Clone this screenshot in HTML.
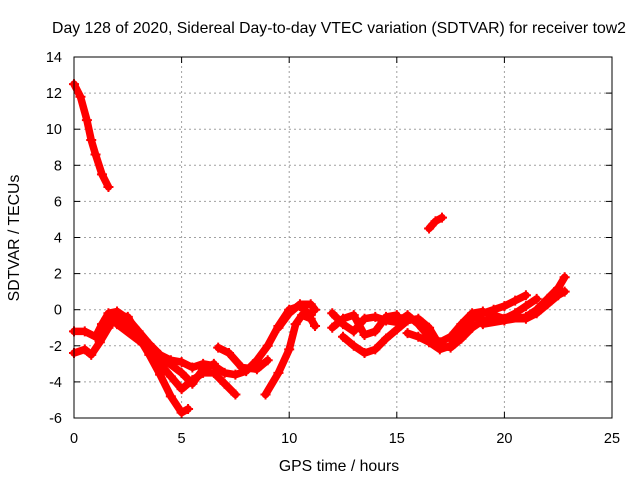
<!DOCTYPE html>
<html><head><meta charset="utf-8"><style>
body{margin:0;background:#fff}
svg{display:block;font-family:"Liberation Sans",Arial,sans-serif}
</style></head><body>
<svg id="chart" width="640" height="480" viewBox="0 0 640 480" xmlns="http://www.w3.org/2000/svg">
<text x="339" y="33" font-size="15.8" text-anchor="middle">Day 128 of 2020, Sidereal Day-to-day VTEC variation (SDTVAR) for receiver tow2</text>
<text x="339" y="471" font-size="15.8" text-anchor="middle">GPS time / hours</text>
<text transform="translate(19,238) rotate(-90)" font-size="15.8" text-anchor="middle">SDTVAR / TECUs</text>
<g id="grid"></g>
<g id="ticks"></g>
<g id="series"></g>
<rect x="74" y="57" width="538" height="361" fill="none" stroke="#000" stroke-width="1"/>
</svg>
<script>
const xTicks=[0,5,10,15,20,25];
const yTicks=[-6,-4,-2,0,2,4,6,8,10,12,14];
const traceA=[[0,12.5],[0.3,11.8],[0.6,10.5],[0.8,9.4],[1.0,8.6],[1.3,7.5],[1.6,6.8]];
const traceB=[[16.5,4.5],[16.8,4.9],[17.1,5.1]];
const trace1=[[0,-1.2],[0.5,-1.2],[1.0,-1.5],[1.3,-0.8],[1.6,-0.2],[2.0,-0.1],[2.5,-0.5],[3,-1.2],[3.5,-1.9],[4,-2.5],[4.5,-2.8],[5,-2.9],[5.5,-3.2],[6,-3],[6.5,-3.1],[7,-3.5],[7.5,-3.6],[8,-3.4],[8.5,-2.8],[9,-2],[9.5,-0.9],[10,0],[10.5,0.2],[11,-0.3]];
const trace2=[[0,-2.4],[0.5,-2.2],[0.8,-2.5],[1.2,-1.8],[1.6,-1],[2,-0.3],[2.5,-0.4],[3,-1.4],[3.5,-2.3],[4,-3],[4.5,-3.7],[5,-4.4],[5.5,-3.9],[6,-3.5],[6.5,-3.5],[7,-4.1],[7.5,-4.7]];
const trace3=[[1.0,-1.5],[1.5,-0.5],[2,-0.3],[3,-1.5],[3.5,-2.5],[4,-3.6],[4.5,-4.8],[5,-5.7],[5.3,-5.5]];
const trace4=[[2,-0.8],[3,-1.7],[4,-2.6],[5,-3.5],[5.5,-4.1],[6,-3.3],[6.5,-3.0]];
const trace5=[[6.7,-2.1],[7.2,-2.4],[7.8,-3.2],[8.5,-3.3],[9,-2.8]];
const trace6=[[8.9,-4.7],[9.5,-3.5],[10,-2.2],[10.3,-0.8],[10.6,-0.3],[11,-0.5],[11.2,-0.9]];
const trace7=[[9.5,-1],[10,-0.2],[10.5,0.3],[11,0.3],[11.2,0]];
const trace8=[[12,-0.2],[12.5,-0.8],[13,-1.2],[13.5,-0.5],[14,-0.4],[14.5,-0.6],[15,-0.7],[15.5,-0.3],[16,-0.8],[16.5,-1.5],[17,-1.8],[17.5,-1.5],[18,-0.8],[18.5,-0.2],[19,-0.1],[20,-0.5],[20.5,-0.2],[21,0.2],[21.5,0.6]];
const trace9=[[12.5,-1.5],[13,-2],[13.5,-2.4],[14,-2.2],[14.5,-1.6],[15,-1.1],[15.5,-0.6],[16,-0.5],[16.5,-1],[17,-2],[17.5,-2.1],[18,-1.6],[18.5,-1.0],[19,-0.6],[20,-0.5],[21,-0.5],[21.5,-0.2],[22,0.3],[22.5,0.8],[22.8,1.0]];
const trace10=[[19,-0.8],[20,-0.6],[21,-0.4],[21.5,0],[22,0.6],[22.5,1.2],[22.8,1.8]];
const trace11=[[15.5,-1.3],[16,-1.5],[16.5,-1.8],[17,-2.2],[17.5,-2],[18,-1.2],[18.5,-0.5],[19,-0.2],[19.5,0],[20,0.2],[20.5,0.5],[21,0.8]];
const trace12=[[12,-1],[12.5,-0.5],[13,-0.3],[13.5,-1.4],[14,-1.2],[14.5,-0.4],[15,-0.3]];
const traces=[traceA,traceB,trace1,trace2,trace3,trace4,trace5,trace6,trace7,trace8,trace9,trace10,trace11,trace12];

const X0=74,X1=612,Y0=418,Y1=57,xmin=0,xmax=25,ymin=-6,ymax=14;
const sx=v=>X0+(v-xmin)/(xmax-xmin)*(X1-X0);
const sy=v=>Y0-(v-ymin)/(ymax-ymin)*(Y0-Y1);
const NS="http://www.w3.org/2000/svg";
const mk=(t,a,p)=>{const e=document.createElementNS(NS,t);for(const k in a)e.setAttribute(k,a[k]);p.appendChild(e);return e;};
const grid=document.getElementById('grid'),ticks=document.getElementById('ticks'),ser=document.getElementById('series');
xTicks.forEach(v=>{
  const x=sx(v);
  if(v>xmin&&v<xmax){const g=mk('line',{x1:x,x2:x,y1:Y0,y2:Y1,stroke:'#a0a0a0','stroke-dasharray':'2,3'},grid);
  
  }
  const t=mk('line',{x1:x,x2:x,y1:Y0,y2:Y0-6,stroke:'#000'},ticks);
  
  
  mk('line',{x1:x,x2:x,y1:Y1,y2:Y1+6,stroke:'#000'},ticks);
  const l=mk('text',{x:x,y:Y0+25,'font-size':14.5,'text-anchor':'middle'},ticks);l.textContent=v;
  
  
});
yTicks.forEach(v=>{
  const y=sy(v);
  if(v>ymin&&v<ymax){const g=mk('line',{x1:X0,x2:X1,y1:y,y2:y,stroke:'#a0a0a0','stroke-dasharray':'2,3'},grid);
  
  }
  const t=mk('line',{x1:X0,x2:X0+6,y1:y,y2:y,stroke:'#000'},ticks);
  
  
  mk('line',{x1:X1,x2:X1-6,y1:y,y2:y,stroke:'#000'},ticks);
  const l=mk('text',{x:X0-12,y:y+5,'font-size':14.5,'text-anchor':'end'},ticks);l.textContent=v;
  
  
});
traces.forEach(tr=>{
  const p=mk('polyline',{points:tr.map(d=>sx(d[0])+','+sy(d[1])).join(' '),fill:'none',stroke:'#ff0000','stroke-width':7.5,'stroke-linejoin':'round','stroke-linecap':'round'},ser);
  
  
  tr.forEach(d=>{
    const x=sx(d[0]),y=sy(d[1]);
    const m=mk('path',{d:`M${x-5},${y}H${x+5}M${x},${y-5}V${y+5}`,stroke:'#ff0000','stroke-width':2},ser);
    
    
  });
});
</script>
</body></html>
